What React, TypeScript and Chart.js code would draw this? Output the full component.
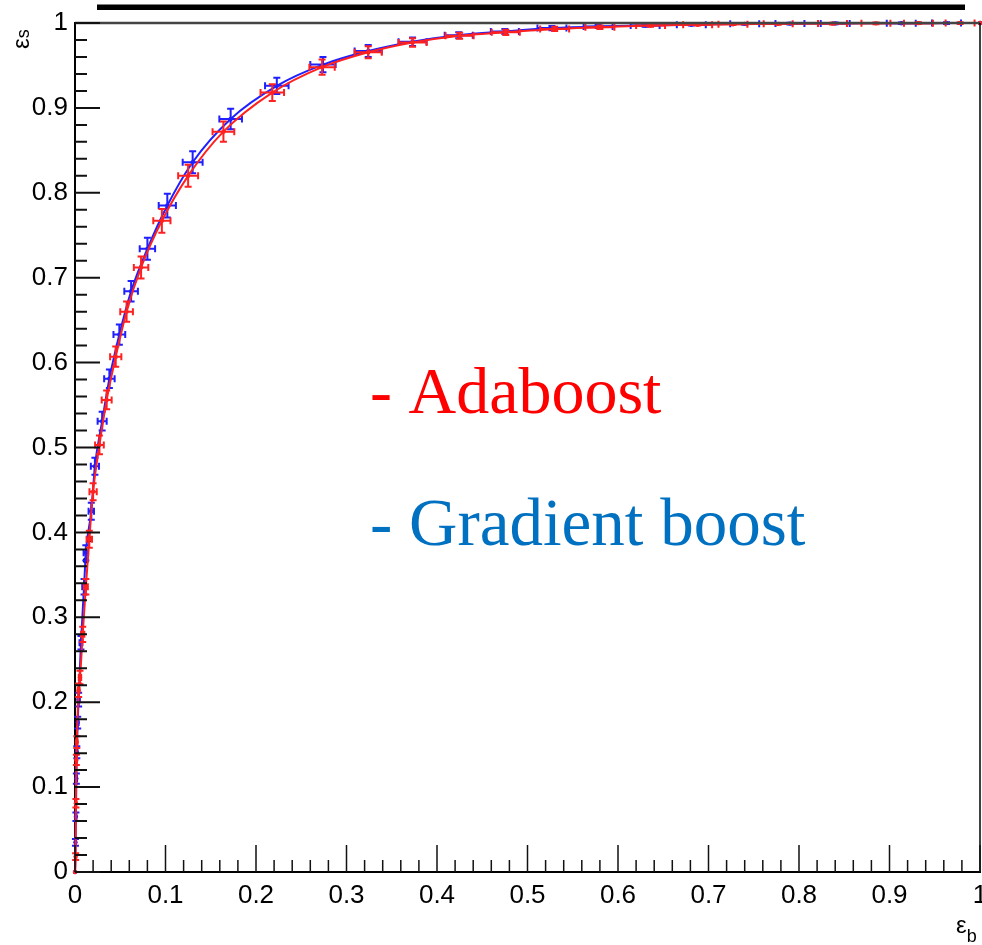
import React, { useEffect, useRef } from "react";
import { Chart, registerables } from "chart.js";

Chart.register(...registerables);

// ---- Data ----
const adaX = [0, 0.0007, 0.001, 0.0015, 0.002, 0.004, 0.0055, 0.0085, 0.012, 0.0158, 0.02, 0.027, 0.035, 0.045, 0.057, 0.073, 0.096, 0.125, 0.164, 0.218, 0.273, 0.324, 0.373, 0.425, 0.476, 0.53, 0.58, 0.636, 0.688, 0.727, 0.777, 0.837, 0.885, 0.932, 0.978, 1.0];
const adaY = [0, 0.018, 0.081, 0.132, 0.153, 0.214, 0.229, 0.28, 0.336, 0.392, 0.448, 0.503, 0.556, 0.607, 0.66, 0.712, 0.767, 0.82, 0.872, 0.918, 0.948, 0.9655, 0.977, 0.985, 0.989, 0.993, 0.995, 0.997, 0.998, 0.9985, 0.999, 0.9993, 0.9996, 0.9998, 0.9999, 1.0];
const adaXErr = [0, 0.0005, 0.0006, 0.0007, 0.0008, 0.001, 0.0013, 0.0018, 0.0022, 0.003, 0.004, 0.0048, 0.0055, 0.0062, 0.007, 0.008, 0.0095, 0.011, 0.012, 0.013, 0.014, 0.015, 0.0155, 0.0155, 0.0155, 0.016, 0.016, 0.016, 0.016, 0.016, 0.016, 0.016, 0.016, 0.016, 0.016, 0];
const adaYErr = [0, 0.004, 0.005, 0.006, 0.007, 0.008, 0.008, 0.009, 0.009, 0.01, 0.01, 0.011, 0.011, 0.012, 0.012, 0.013, 0.014, 0.013, 0.012, 0.01, 0.009, 0.007, 0.005, 0.0035, 0.003, 0.0025, 0.002, 0.0015, 0.001, 0.001, 0.001, 0.001, 0.001, 0.001, 0.001, 0];

const gbX = [0, 0.0005, 0.001, 0.0015, 0.002, 0.003, 0.004, 0.0066, 0.01, 0.012, 0.018, 0.022, 0.03, 0.038, 0.049, 0.062, 0.08, 0.102, 0.13, 0.172, 0.223, 0.274, 0.324, 0.373, 0.424, 0.475, 0.527, 0.578, 0.63, 0.681, 0.74, 0.79, 0.84, 0.913, 0.963, 1.0];
const gbY = [0, 0.035, 0.065, 0.11, 0.141, 0.176, 0.203, 0.27, 0.336, 0.376, 0.425, 0.478, 0.531, 0.581, 0.633, 0.684, 0.734, 0.785, 0.836, 0.887, 0.926, 0.951, 0.967, 0.978, 0.9855, 0.99, 0.994, 0.996, 0.997, 0.998, 0.999, 0.9993, 0.9995, 0.9997, 0.9999, 1.0];
const gbXErr = [0, 0.0005, 0.0006, 0.0007, 0.0008, 0.001, 0.0012, 0.0016, 0.002, 0.0025, 0.003, 0.0045, 0.005, 0.0058, 0.0065, 0.0075, 0.0085, 0.0095, 0.011, 0.0125, 0.013, 0.014, 0.015, 0.0155, 0.0155, 0.0155, 0.016, 0.016, 0.016, 0.016, 0.016, 0.016, 0.016, 0.016, 0.016, 0];
const gbYErr = [0, 0.004, 0.005, 0.006, 0.007, 0.007, 0.008, 0.008, 0.009, 0.009, 0.01, 0.01, 0.011, 0.011, 0.012, 0.012, 0.013, 0.014, 0.013, 0.012, 0.0095, 0.009, 0.007, 0.005, 0.0035, 0.003, 0.0025, 0.002, 0.0015, 0.001, 0.001, 0.001, 0.001, 0.001, 0.001, 0];

const markX = [0.0158, 0.012];
const markY = [0.392, 0.367];

const majorTicks = [0, 0.1, 0.2, 0.3, 0.4, 0.5, 0.6, 0.7, 0.8, 0.9, 1];
const legendLabels = ["- Adaboost", "- Gradient boost"];
const legendColors = ["#ff0000", "#0070c0"];
const seriesColors = ["#ff2020", "#1f1fff"];
const axisTitleX = ["ε", "b"];
const axisTitleY = ["ε", "s"];

const errBars = [
  { x: adaX, y: adaY, xe: adaXErr, ye: adaYErr },
  { x: gbX, y: gbY, xe: gbXErr, ye: gbYErr },
];

const fmtTick = (v: any) => String(Number(Number(v).toFixed(1)));

const rocPlugin = {
  id: "rocDecor",
  beforeDatasetDraw(chart: any, args: any) {
    const eb = errBars[args.index];
    if (!eb) return;
    const xs = chart.scales.x;
    const ys = chart.scales.y;
    const ctx = chart.ctx;
    ctx.save();
    ctx.strokeStyle = seriesColors[args.index];
    ctx.lineWidth = 2;
    const cap = 3.5;
    for (let i = 0; i < eb.x.length; i++) {
      const px = xs.getPixelForValue(eb.x[i]);
      const py = ys.getPixelForValue(eb.y[i]);
      if (eb.xe[i] > 0) {
        const x1 = xs.getPixelForValue(eb.x[i] - eb.xe[i]);
        const x2 = xs.getPixelForValue(eb.x[i] + eb.xe[i]);
        ctx.beginPath();
        ctx.moveTo(x1, py);
        ctx.lineTo(x2, py);
        ctx.moveTo(x1, py - cap);
        ctx.lineTo(x1, py + cap);
        ctx.moveTo(x2, py - cap);
        ctx.lineTo(x2, py + cap);
        ctx.stroke();
      }
      if (eb.ye[i] > 0) {
        const y1 = ys.getPixelForValue(eb.y[i] - eb.ye[i]);
        const y2 = ys.getPixelForValue(Math.min(eb.y[i] + eb.ye[i], 1.004));
        ctx.beginPath();
        ctx.moveTo(px, y1);
        ctx.lineTo(px, y2);
        ctx.moveTo(px - cap, y1);
        ctx.lineTo(px + cap, y1);
        ctx.moveTo(px - cap, y2);
        ctx.lineTo(px + cap, y2);
        ctx.stroke();
      }
    }
    ctx.restore();
  },
  afterDraw(chart: any) {
    const ctx = chart.ctx;
    const xs = chart.scales.x;
    const ys = chart.scales.y;
    const a = chart.chartArea;
    ctx.save();
    // frame top and right
    ctx.strokeStyle = "#444";
    ctx.lineWidth = 2.5;
    ctx.beginPath();
    ctx.moveTo(a.left, a.top);
    ctx.lineTo(a.right, a.top);
    ctx.stroke();
    ctx.strokeStyle = "#000";
    ctx.lineWidth = 1.5;
    ctx.beginPath();
    ctx.moveTo(a.right, a.top);
    ctx.lineTo(a.right, a.bottom);
    ctx.stroke();

    // inward ticks
    const minor: number[] = [];
    for (let i = 0; i < majorTicks.length - 1; i++) {
      const step = (majorTicks[i + 1] - majorTicks[i]) / 5;
      for (let k = 1; k < 5; k++) minor.push(majorTicks[i] + step * k);
    }
    ctx.strokeStyle = "#111";
    ctx.lineWidth = 2;
    ctx.beginPath();
    majorTicks.forEach((v) => {
      const py = ys.getPixelForValue(v);
      ctx.moveTo(a.left, py);
      ctx.lineTo(a.left + 25, py);
    });
    minor.forEach((v) => {
      const py = ys.getPixelForValue(v);
      ctx.moveTo(a.left, py);
      ctx.lineTo(a.left + 12, py);
    });
    ctx.stroke();
    ctx.lineWidth = 1.5;
    ctx.beginPath();
    majorTicks.forEach((v) => {
      const px = xs.getPixelForValue(v);
      ctx.moveTo(px, a.bottom);
      ctx.lineTo(px, a.bottom - 27);
    });
    minor.forEach((v) => {
      const px = xs.getPixelForValue(v);
      ctx.moveTo(px, a.bottom);
      ctx.lineTo(px, a.bottom - 12);
    });
    ctx.stroke();

    // black bar at the top
    ctx.fillStyle = "#000";
    ctx.fillRect(97, 4.5, 868, 5.5);

    // axis titles
    ctx.fillStyle = "#000";
    ctx.textBaseline = "alphabetic";
    ctx.font = "24px 'Liberation Sans', Arial, sans-serif";
    const ex = 956;
    ctx.fillText(axisTitleX[0], ex, 933);
    const ew = ctx.measureText(axisTitleX[0]).width;
    ctx.font = "18px 'Liberation Sans', Arial, sans-serif";
    ctx.fillText(axisTitleX[1], ex + ew, 942);

    ctx.save();
    ctx.translate(29, 49);
    ctx.rotate(-Math.PI / 2);
    ctx.font = "24px 'Liberation Sans', Arial, sans-serif";
    ctx.fillText(axisTitleY[0], 0, 0);
    const ew2 = ctx.measureText(axisTitleY[0]).width;
    ctx.font = "18px 'Liberation Sans', Arial, sans-serif";
    ctx.fillText(axisTitleY[1], ew2, 0);
    ctx.restore();

    // legend text
    ctx.font = "66px 'Liberation Serif', 'Times New Roman', serif";
    ctx.fillStyle = legendColors[0];
    ctx.fillText(legendLabels[0], 370, 413);
    ctx.font = "67px 'Liberation Serif', 'Times New Roman', serif";
    ctx.fillStyle = legendColors[1];
    ctx.fillText(legendLabels[1], 370, 545);
    ctx.restore();
  },
};

export default function App() {
  const ref = useRef<HTMLCanvasElement | null>(null);
  useEffect(() => {
    if (!ref.current) return;
    const toPts = (xs: number[], ys: number[]) => xs.map((x, i) => ({ x, y: ys[i] }));
    const tickFont = { family: "'Liberation Sans', Arial, sans-serif", size: 26 };
    const chart = new Chart(ref.current, {
      type: "line",
      data: {
        datasets: [
          {
            label: "Adaboost",
            data: toPts(adaX, adaY),
            borderColor: seriesColors[0],
            backgroundColor: seriesColors[0],
            borderWidth: 2,
            pointRadius: 2.2,
            pointBorderWidth: 0,
            cubicInterpolationMode: "monotone",
            clip: 4,
          },
          {
            label: "Gradient boost",
            data: toPts(gbX, gbY),
            borderColor: seriesColors[1],
            backgroundColor: seriesColors[1],
            borderWidth: 2,
            pointRadius: 2.2,
            pointBorderWidth: 0,
            cubicInterpolationMode: "monotone",
            clip: 4,
          },
          {
            label: "marks",
            data: toPts(markX, markY),
            showLine: false,
            borderColor: "#000",
            backgroundColor: "#000",
            pointRadius: 3,
            pointBorderWidth: 0,
          },
        ],
      },
      options: {
        responsive: false,
        animation: false,
        layout: { padding: { top: 23, right: 2, left: 0, bottom: 0 }, autoPadding: false },
        plugins: { legend: { display: false }, tooltip: { enabled: false } },
        scales: {
          x: {
            type: "linear",
            min: 0,
            max: 1,
            grid: { display: false, drawTicks: false },
            border: { display: true, color: "#000", width: 2 },
            ticks: { stepSize: 0.1, color: "#000", font: tickFont, padding: 8, maxRotation: 0, callback: fmtTick },
            afterFit: (s: any) => {
              s.height = 73;
              s.paddingLeft = 0;
              s.paddingRight = 0;
            },
          },
          y: {
            type: "linear",
            min: 0,
            max: 1,
            grid: { display: false, drawTicks: false },
            border: { display: true, color: "#000", width: 2 },
            ticks: { stepSize: 0.1, color: "#000", font: tickFont, padding: 7, callback: fmtTick },
            afterFit: (s: any) => {
              s.width = 75;
              s.paddingTop = 0;
              s.paddingBottom = 0;
            },
          },
        },
      },
      plugins: [rocPlugin],
    } as any);
    return () => chart.destroy();
  }, []);
  return (
    <div style={{ position: "fixed", left: 0, top: 0, width: 982, height: 945, background: "#fff" }}>
      <canvas ref={ref} width={982} height={945} />
    </div>
  );
}
